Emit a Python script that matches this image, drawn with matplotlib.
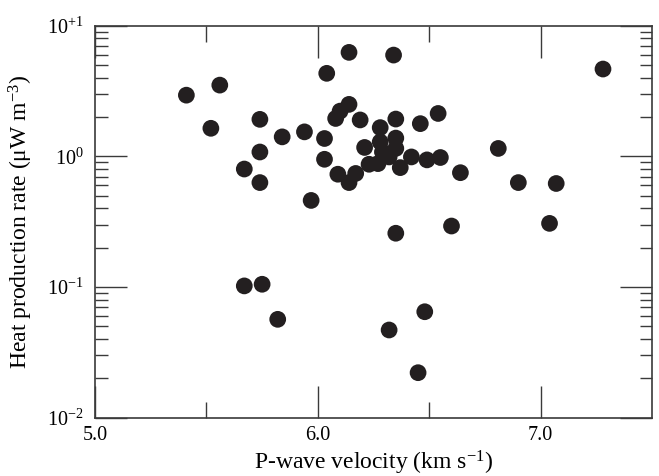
import numpy as np
import matplotlib
matplotlib.use("Agg")
import matplotlib.pyplot as plt
from matplotlib.ticker import FixedLocator, LogLocator, NullFormatter

# P-wave velocity (km/s) and heat production (uW/m3)
vp = [5.41, 5.56, 5.52, 5.74, 5.84, 5.94, 5.74, 5.67, 5.74, 5.97,
      6.04, 6.14, 6.34, 7.28, 6.14, 6.10, 6.08, 6.19, 6.35, 6.46,
      6.54, 6.28, 6.03, 6.35, 6.21, 6.28, 6.35, 6.29, 6.32, 6.81,
      6.03, 6.42, 6.49, 6.55, 6.23, 6.27, 6.37, 6.64, 6.09, 6.17,
      6.14, 6.90, 7.07, 6.60, 7.04, 6.35, 5.67, 5.75, 5.82, 6.48,
      6.32, 6.45]
heat = [2.94, 3.51, 1.64, 1.92, 1.41, 1.54, 1.08, 0.80, 0.63, 0.46,
        4.32, 6.25, 5.96, 4.66, 2.50, 2.22, 1.95, 1.90, 1.93, 1.78,
        2.13, 1.66, 1.37, 1.38, 1.17, 1.29, 1.15, 1.08, 0.99, 1.15,
        0.95, 0.99, 0.94, 0.98, 0.87, 0.88, 0.82, 0.75, 0.73, 0.74,
        0.63, 0.63, 0.62, 0.293, 0.307, 0.258, 0.102, 0.105, 0.0566, 0.0647,
        0.0469, 0.0221]

xticks = [5.0, 6.0, 7.0]
xtick_labels = ["5.0", "6.0", "7.0"]
yticks = [0.01, 0.1, 1, 10]
ytick_labels = [r"$10^{-2}$", r"$10^{-1}$", r"$10^{0}$", r"$10^{+1}$"]

plt.rcParams["font.family"] = ["Liberation Serif", "DejaVu Serif"]
plt.rcParams["mathtext.fontset"] = "custom"
plt.rcParams["mathtext.rm"] = "Liberation Serif"
plt.rcParams["mathtext.it"] = "Liberation Serif:italic"
plt.rcParams["mathtext.default"] = "regular"

edge = "#3a3a3a"

fig = plt.figure(figsize=(6.59, 4.76), dpi=100)
ax = fig.add_axes([0.1442, 0.1225, 0.8452, 0.8235])

ax.scatter(vp, heat, s=145, color="#231f20", edgecolors="none", zorder=3)

ax.set_yscale("log")
ax.set_xlim(5.0, 7.5)
ax.set_ylim(0.01, 10)

ax.xaxis.set_major_locator(FixedLocator(xticks))
ax.set_xticklabels(xtick_labels)
ax.xaxis.set_minor_locator(FixedLocator([5.5, 6.5]))
ax.yaxis.set_major_locator(FixedLocator(yticks))
ax.set_yticklabels(ytick_labels)
ax.yaxis.set_minor_locator(LogLocator(base=10, subs=np.arange(2, 10)))
ax.yaxis.set_minor_formatter(NullFormatter())

ax.tick_params(which="both", direction="in", top=True, right=True,
               color=edge, width=1.0, labelsize=14.5, labelcolor="black")
ax.tick_params(axis="x", which="major", length=23, pad=6)
ax.tick_params(axis="x", which="minor", length=11.5)
ax.tick_params(axis="y", which="major", length=23, pad=8)
ax.tick_params(axis="y", which="minor", length=9)

for sp in ax.spines.values():
    sp.set_color(edge)
    sp.set_linewidth(1.2)

ax.set_xlabel(r"P-wave velocity (km s$^{-1}$)", fontsize=17, labelpad=3)
ax.set_ylabel(r"Heat production rate (μW m$^{-3}$)", fontsize=17, labelpad=9)

fig.savefig("out.png", dpi=100)
